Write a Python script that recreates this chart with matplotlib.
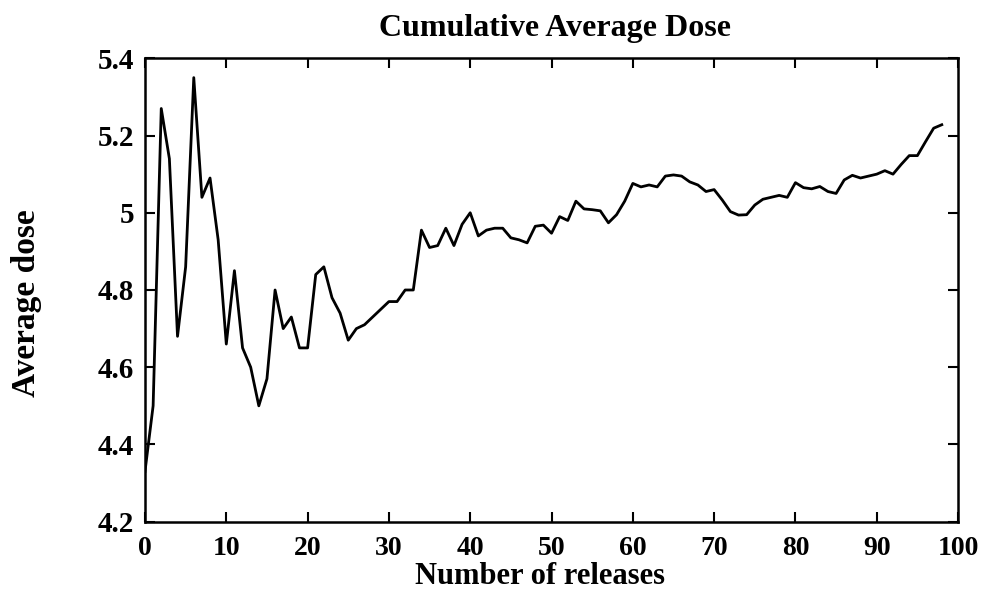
import matplotlib
matplotlib.use("Agg")
import matplotlib.pyplot as plt

# cumulative average dose after each release
releases = list(range(0, 99))
avg_dose = [
    4.33, 4.50, 5.27, 5.14, 4.68, 4.86, 5.35, 5.04, 5.09, 4.93,
    4.66, 4.85, 4.65, 4.60, 4.50, 4.57, 4.80, 4.70, 4.73, 4.65,
    4.65, 4.84, 4.86, 4.78, 4.74, 4.67, 4.70, 4.71, 4.73, 4.75,
    4.77, 4.77, 4.80, 4.80, 4.955, 4.91, 4.915, 4.96, 4.915, 4.97,
    5.00, 4.94, 4.955, 4.96, 4.96, 4.935, 4.93, 4.922, 4.965, 4.968,
    4.947, 4.99, 4.98, 5.03, 5.01, 5.008, 5.005, 4.974, 4.995, 5.03,
    5.076, 5.067, 5.072, 5.067, 5.095, 5.098, 5.095, 5.08, 5.072, 5.055,
    5.06, 5.033, 5.003, 4.994, 4.995, 5.02, 5.035, 5.04, 5.045, 5.04,
    5.078, 5.065, 5.062, 5.068, 5.055, 5.05, 5.085, 5.097, 5.09, 5.095,
    5.10, 5.109, 5.10, 5.125, 5.148, 5.148, 5.184, 5.219, 5.228,
]
xticks = [0, 10, 20, 30, 40, 50, 60, 70, 80, 90, 100]
yticks = [4.2, 4.4, 4.6, 4.8, 5.0, 5.2, 5.4]
yticklabels = ["4.2", "4.4", "4.6", "4.8", "5", "5.2", "5.4"]

plt.rcParams["font.family"] = ["Liberation Serif", "DejaVu Serif"]
plt.rcParams["font.weight"] = "bold"

fig = plt.figure(figsize=(9.81, 5.92), dpi=100)
ax = fig.add_axes([0.1478, 0.1188, 0.8288, 0.7827])
ax.plot(releases, avg_dose, color="black", lw=2.0)

ax.set_xlim(0, 100)
ax.set_ylim(4.2, 5.4)
ax.set_xticks(xticks)
ax.set_yticks(yticks)
ax.set_yticklabels(yticklabels)
ax.tick_params(direction="in", top=True, right=True, length=7, width=1.5,
               labelsize=21)
ax.tick_params(axis="x", pad=10, labelsize=20)
ax.tick_params(axis="y", pad=8)
for s in ax.spines.values():
    s.set_linewidth(1.8)

ax.set_title("Cumulative Average Dose", fontsize=23, fontweight="bold",
             x=0.504, pad=16)
ax.set_xlabel("Number of releases", fontsize=22, fontweight="bold")
ax.xaxis.set_label_coords(0.486, -0.0865)
ax.set_ylabel("Average dose", fontsize=24, fontweight="bold")
ax.yaxis.set_label_coords(-0.127, 0.472)

fig.savefig("out.png", dpi=100)
